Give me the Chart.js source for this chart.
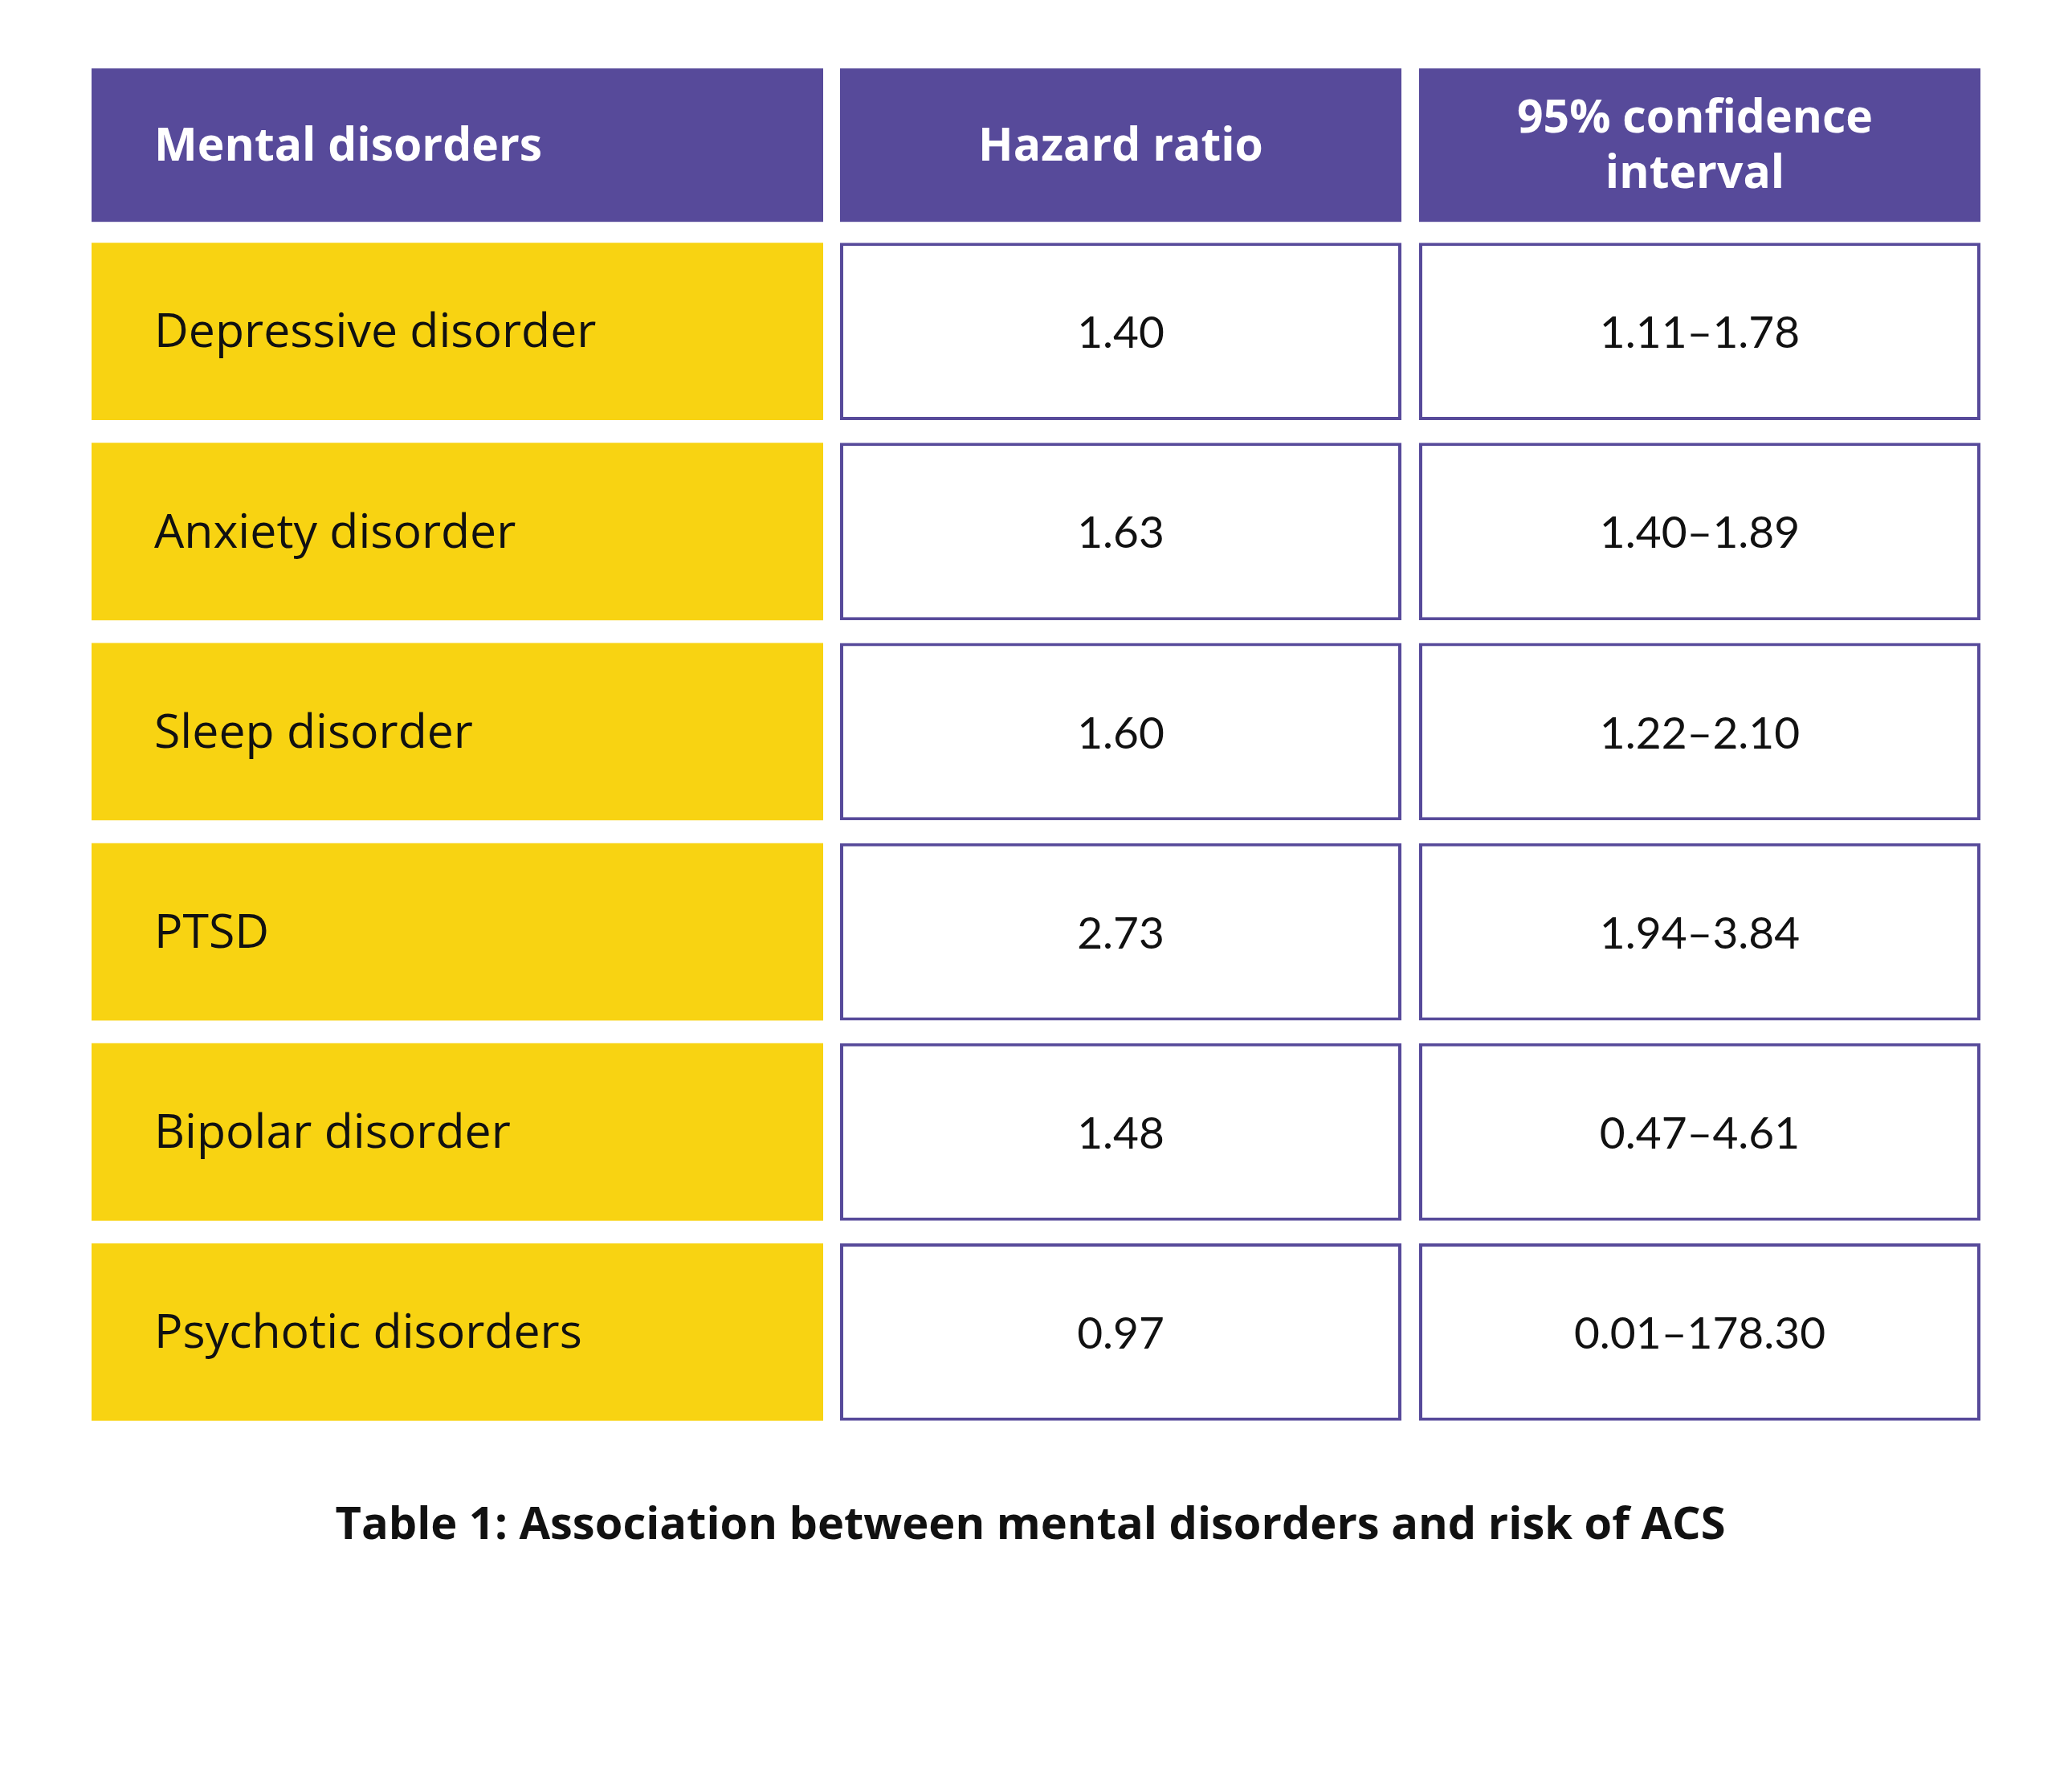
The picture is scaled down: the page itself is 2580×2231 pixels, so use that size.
<!DOCTYPE html>
<html>
<head>
<meta charset="utf-8">
<script src="https://cdn.jsdelivr.net/npm/chart.js@4.4.1/dist/chart.umd.min.js"></script>
<style>
  html, body { margin: 0; padding: 0; background: #ffffff; }
  #wrap { position: relative; width: 2580px; height: 2231px; }
</style>
</head>
<body>
<div id="wrap"><canvas id="tbl"></canvas></div>
<script>
// table data
const disorders = ['Depressive disorder', 'Anxiety disorder', 'Sleep disorder', 'PTSD', 'Bipolar disorder', 'Psychotic disorders'];
const hazardRatio = ['1.40', '1.63', '1.60', '2.73', '1.48', '0.97'];
const ciLow = ['1.11', '1.40', '1.22', '1.94', '0.47', '0.01'];
const ciHigh = ['1.78', '1.89', '2.10', '3.84', '4.61', '178.30'];
const headers = [['Mental disorders'], ['Hazard ratio'], ['95% confidence', 'interval']];
const caption = 'Table 1: Association between mental disorders and risk of ACS';

const purple = '#574a9a';
const yellow = '#f8d312';
const TEXT_FONT = '"Open Sans", Lato, sans-serif';
const NUM_FONT = 'Lato, "Open Sans", sans-serif';

// column edges in canvas px (layout only)
const colEdges = [[114, 1025], [1046, 1745], [1767, 2466]];

const ciText = ciLow.map((lo, i) => lo + '\u2013' + ciHigh[i]);
const cellText = [disorders, hazardRatio, ciText];

// every column is one floating bar dataset over the rows
const datasets = colEdges.map((edge, c) => ({
  label: headers[c].join(' '),
  data: disorders.map(() => edge),
  backgroundColor: c === 0 ? yellow : '#ffffff',
  borderColor: c === 0 ? yellow : purple,
  borderWidth: c === 0 ? 0 : 4,
  borderSkipped: false,
  barPercentage: 1,
  categoryPercentage: 0.886
}));

const tablePlugin = {
  id: 'tableText',
  afterDatasetsDraw(chart) {
    const ctx = chart.ctx;
    const yScale = chart.scales.y;
    const xScale = chart.scales.x;
    const rowH = yScale.getPixelForValue(1) - yScale.getPixelForValue(0);
    const cellH = rowH * 0.886;
    const firstTop = yScale.getPixelForValue(0) - cellH / 2;

    // header row
    const headH = 191;
    const headTop = firstTop - 26 - headH;
    ctx.save();
    colEdges.forEach((edge, c) => {
      const x0 = xScale.getPixelForValue(edge[0]);
      const x1 = xScale.getPixelForValue(edge[1]);
      ctx.fillStyle = purple;
      ctx.fillRect(x0, headTop, x1 - x0, headH);
      ctx.fillStyle = '#ffffff';
      ctx.font = 'bold 57px ' + TEXT_FONT;
      ctx.textBaseline = 'middle';
      const lines = headers[c];
      const lh = 69;
      const cy = headTop + headH / 2 + 3 - (lines.length - 1) * lh / 2;
      lines.forEach((t, k) => {
        if (c === 0) {
          ctx.textAlign = 'left';
          ctx.fillText(t, x0 + 78, cy + k * lh);
        } else {
          ctx.textAlign = 'center';
          ctx.fillText(t, (x0 + x1) / 2 - (c === 2 ? 6 : 0), cy + k * lh);
        }
      });
    });

    // body text
    ctx.fillStyle = '#111111';
    ctx.textBaseline = 'middle';
    chart.data.datasets.forEach((ds, c) => {
      const meta = chart.getDatasetMeta(c);
      meta.data.forEach((bar, i) => {
        const p = bar.getProps(['x', 'base', 'y'], true);
        const left = Math.min(p.x, p.base);
        const right = Math.max(p.x, p.base);
        if (c === 0) {
          ctx.font = '59px ' + TEXT_FONT;
          ctx.textAlign = 'left';
          ctx.fillText(cellText[c][i], left + 78, p.y + 3);
        } else {
          ctx.font = '55px ' + NUM_FONT;
          ctx.textAlign = 'center';
          ctx.fillText(cellText[c][i], (left + right) / 2, p.y + 3);
        }
      });
    });

    // caption
    ctx.font = 'bold 56px ' + TEXT_FONT;
    ctx.textAlign = 'center';
    ctx.fillStyle = '#111111';
    ctx.fillText(caption, 1283, yScale.bottom + 117);
    ctx.restore();
  }
};

new Chart(document.getElementById('tbl'), {
  type: 'bar',
  data: { labels: disorders, datasets: datasets },
  options: {
    indexAxis: 'y',
    responsive: true,
    maintainAspectRatio: false,
    animation: false,
    layout: { padding: { top: 288, bottom: 448, left: 0, right: 0 } },
    scales: {
      x: { type: 'linear', min: 0, max: 2580, display: false },
      y: { type: 'category', stacked: true, display: false, grid: { display: false } }
    },
    plugins: {
      legend: { display: false },
      tooltip: { enabled: false }
    }
  },
  plugins: [tablePlugin]
});
</script>
</body>
</html>
